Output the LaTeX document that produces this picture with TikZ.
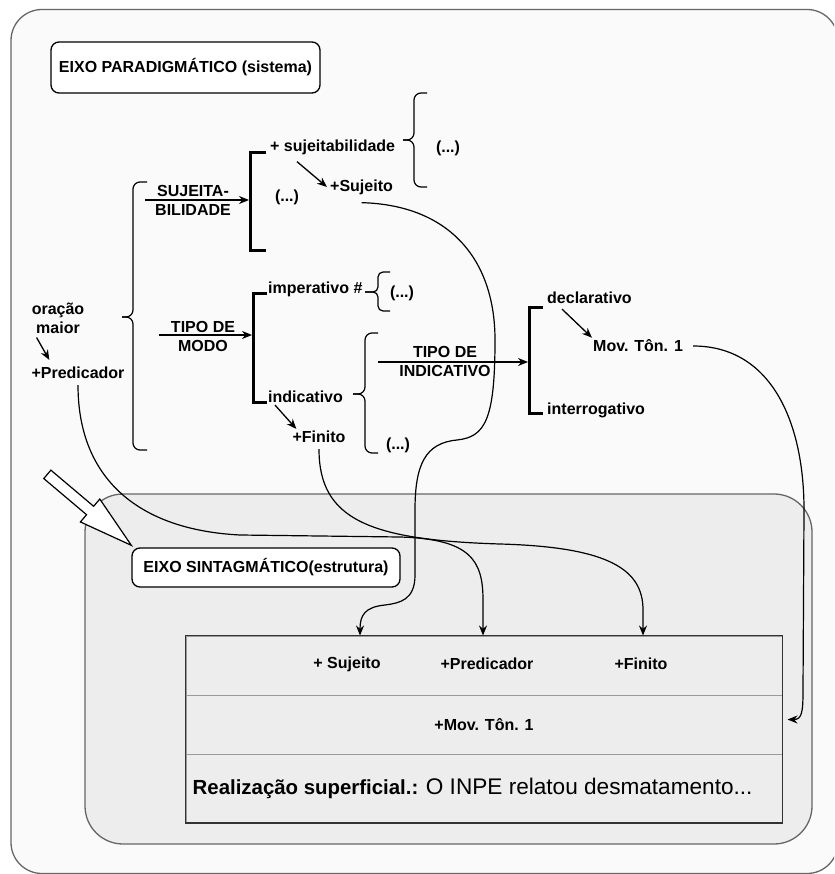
\documentclass[tikz,border=0pt]{standalone}
\usepackage{fontspec}
\setmainfont{Liberation Sans}
\usetikzlibrary{arrows.meta,positioning,calc}
\definecolor{framegray}{HTML}{666666}
\definecolor{paper}{HTML}{FAFAFA}
\definecolor{shade}{HTML}{EDEDED}
\definecolor{rowline}{HTML}{9A9A9A}
\definecolor{tabline}{HTML}{333333}

\begin{document}
\begin{tikzpicture}[
  x=1pt,y=-1pt,
  lbl/.style={font=\fontsize{16}{19}\selectfont\bfseries, inner sep=2pt, align=center},
  box/.style={draw, rounded corners=8pt, fill=white, line width=1.3pt, font=\fontsize{16}{19}\selectfont\bfseries},
  row/.style={draw=rowline, fill=shade, line width=1pt, minimum width=596pt, inner sep=0pt},
  arr/.style={-{Stealth[length=10pt,width=8pt]}, line width=1.3pt},
  lnk/.style={-{Stealth[length=10pt,width=8pt]}, line width=1.2pt},
  brk/.style={line width=3pt},
  brc/.style={line width=1.2pt, rounded corners=7pt}
]
\useasboundingbox (0,0) rectangle (834,874);
\clip (0,0) rectangle (834,874);
\fill[white] (0,0) rectangle (834,874);

% the two axes
\draw[framegray, fill=paper, line width=1.3pt, rounded corners=31pt] (11,9.5) rectangle (838,873.5);
\draw[framegray, fill=shade, line width=1.3pt, rounded corners=38pt] (85,494) rectangle (812,844);

\node[box, minimum width=269pt, minimum height=51pt] (parbox) at (185.5,67.5) {EIXO PARADIGMÁTICO (sistema)};
\node[box, minimum width=268pt, minimum height=39pt] (sinbox) at (266,567.5) {EIXO SINTAGMÁTICO(estrutura)};

% structure table
\node[row, minimum height=59pt] (r1) at (484,665.5) {};
\node[row, minimum height=59pt, lbl] (r2) at (484,724.5) {+Mov. Tôn. 1};
\node[row, minimum height=68pt] (r3) at (484,788.5) {};
\draw[tabline, line width=1.3pt] (r1.north west) rectangle (r3.south east);
\node[lbl] (lsuj) at (347,664) {+ Sujeito};
\node[lbl] (lpred) at (487,664) {+Predicador};
\node[lbl] (lfin) at (641,664) {+Finito};
\node[anchor=west, inner sep=0pt] (real) at ([xshift=7pt]r3.west) {\fontsize{20.4}{24}\selectfont\bfseries Realização superficial.: \fontsize{22.6}{26}\mdseries O INPE relatou desmatamento...};

% system network
\node[lbl] (orac) at (58,318) {oração\\maior};
\node[lbl] (pred) at (78,373) {+Predicador};
\node[lbl] (lsb) at (193,200) {SUJEITA-\\BILIDADE};
\node[lbl] (ltm) at (203,336) {TIPO DE\\MODO};
\node[lbl, anchor=west] (sujb) at (268,147) {+ sujeitabilidade};
\node[lbl] (dots1) at (448,148) {(...)};
\node[lbl, anchor=west] (suj) at (328,187) {+Sujeito};
\node[lbl] (dots2) at (287,197) {(...)};
\node[lbl, anchor=west] (imp) at (266,289) {imperativo \#};
\node[lbl] (dots3) at (402,293) {(...)};
\node[lbl, anchor=west] (ind) at (266,397) {indicativo};
\node[lbl] (fin) at (319,437) {+Finito};
\node[lbl] (dots4) at (398,445) {(...)};
\node[lbl] (lti) at (445,361) {TIPO DE\\INDICATIVO};
\node[lbl, anchor=west] (decl) at (545,298) {declarativo};
\node[lbl, anchor=west] (mov) at (591,346) {Mov. Tôn. 1};
\node[lbl, anchor=west] (inter) at (545,410) {interrogativo};

% brackets and braces
\draw[brk] (266,153) -- (250,153) -- (250,251) -- (266,251);
\draw[brk] (267,293) -- (253,293) -- (253,402) -- (267,402);
\draw[brk] (543,307) -- (529,307) -- (529,413) -- (543,413);
\draw[brc] (147,182) -- (133,182) -- (133,317) -- (122,317);
\draw[brc] (122,317) -- (133,317) -- (133,450) -- (147,450);
\draw[brc] (427,93) -- (414,93) -- (414,140) -- (403,140);
\draw[brc] (403,140) -- (414,140) -- (414,187) -- (427,187);
\draw[brc,rounded corners=5pt] (390,272) -- (378,272) -- (378,292) -- (365,292);
\draw[brc,rounded corners=5pt] (365,292) -- (378,292) -- (378,311) -- (390,311);
\draw[brc] (378,333) -- (365,333) -- (365,394) -- (353,394);
\draw[brc] (353,394) -- (365,394) -- (365,453) -- (378,453);

\coordinate (sbS) at (145,200);
\coordinate (br1) at (249,200);
\coordinate (tmS) at (159,335);
\coordinate (br2) at (252,335);
\coordinate (tiS) at (378,362);
\coordinate (br3) at (528,362);
\draw[arr] (sbS) -- (br1);
\draw[arr] (tmS) -- (br2);
\draw[arr] (tiS) -- (br3);

\draw[arr] ([xshift=7pt,yshift=-2pt]orac.south west) -- ([xshift=20pt,yshift=5pt]pred.north west);
\draw[arr] ([xshift=29pt,yshift=-5pt]sujb.south west) -- ([xshift=-1pt]suj.west);
\draw[arr] ([xshift=9pt,yshift=0pt]ind.south west) -- ([xshift=6pt]fin.north west);
\draw[arr] ([xshift=17pt,yshift=-3pt]decl.south west) -- ([xshift=1pt]mov.north west);

% paradigmatic choices realised in the structure
\draw[lnk] ([yshift=-6pt]suj.south) .. controls (450,205) and (495,260) .. (495,340)
  .. controls (495,420) and (485,437) .. (457,440)
  .. controls (425,443) and (415,465) .. (415,510) -- (415,575)
  .. controls (415,600) and (400,603) .. (385,605)
  .. controls (365,607) and (360,615) .. ($(r1.north -| lsuj)+(13,0)$);
\draw[lnk] ([yshift=-4pt]pred.south) .. controls (78,480) and (140,530) .. (240,535) -- (400,537)
  .. controls (470,539) and (483,560) .. (483,600) -- ($(r1.north -| lpred)+(-4,0)$);
\draw[lnk] ([yshift=-4pt]fin.south) .. controls (319,520) and (370,540) .. (500,544)
  .. controls (610,547) and (643,570) .. (643,610) -- ($(r1.north -| lfin)+(2,0)$);
\draw[lnk] ([xshift=8pt]mov.east) .. controls (770,346) and (804,420) .. (804,510) -- (803,690)
  .. controls (803,712) and (802,719.5) .. ([xshift=5pt,yshift=5pt]r2.east);

% block arrow onto the syntagmatic axis
\begin{scope}[shift={([yshift=2pt]sinbox.north west)}, rotate=-40.2]
\draw[fill=white, line width=1.2pt, line join=miter] (0,0) -- (-54,15) -- (-54,5.5) -- (-110,5.5) -- (-110,-5.5) -- (-54,-5.5) -- (-54,-15) -- cycle;
\end{scope}
\end{tikzpicture}
\end{document}
